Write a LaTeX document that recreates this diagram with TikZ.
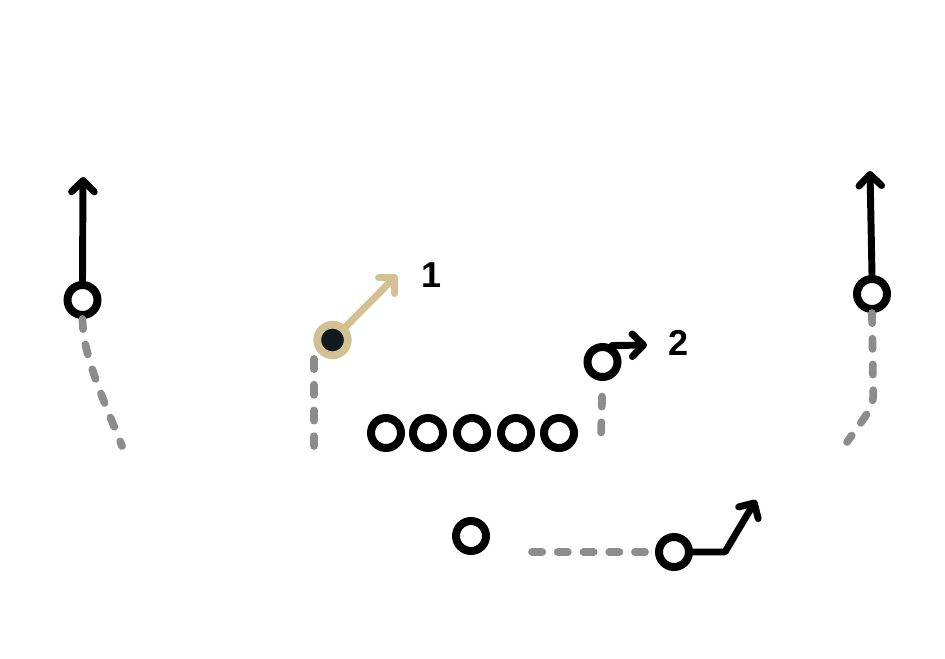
\documentclass[tikz,border=0pt]{standalone}
\usepackage{fontspec}
\setmainfont{Liberation Sans}
\usetikzlibrary{arrows.meta}
\definecolor{dashgray}{HTML}{8C8C8C}
\definecolor{gold}{HTML}{D3C193}
\definecolor{darkfill}{HTML}{111A1E}
\begin{document}
\begin{tikzpicture}[x=0.75pt,y=-0.75pt,
  player/.style={circle,draw=black,line width=6pt,minimum size=22.5pt,inner sep=0pt,fill=white},
  goldplayer/.style={circle,draw=gold,line width=5.85pt,fill=darkfill,minimum size=22.9pt,inner sep=0pt},
  route/.style={line width=5.2pt,line cap=round,line join=round,-{Straight Barb[length=8.5pt,width=17pt,round]}},
  goldroute/.style={route,draw=gold},
  motion/.style={draw=dashgray,line width=5.8pt,line cap=round,dash pattern=on 7.6pt off 11.7pt},
  num/.style={font=\bfseries\fontsize{27}{27}\selectfont,inner sep=0pt}
]
\useasboundingbox (0,0) rectangle (945,659);

% coordinates
\coordinate (lrtip) at (83,177);
\coordinate (lrend) at (122,446);
\coordinate (rrtip) at (870,171);
\coordinate (rrmid) at (873,385);
\coordinate (rrend) at (847,442);
\coordinate (t1) at (397,275);
\coordinate (gd1) at (314,359);
\coordinate (gd2) at (314,446);
\coordinate (t2) at (647,345);
\coordinate (trend) at (601,436);
\coordinate (rbstart) at (532,552);
\coordinate (rbbend) at (725,552);
\coordinate (rbtip) at (756,500);

% players
\node[player] (lr) at (82.5,300) {};
\node[player] (rr) at (872,294) {};
\node[goldplayer] (gp) at (332.5,340) {};
\node[player] (tr) at (602.5,362) {};
\node[player] (ol1) at (386,433) {};
\node[player] (ol2) at (428,433) {};
\node[player] (ol3) at (472,433) {};
\node[player] (ol4) at (516,433) {};
\node[player] (ol5) at (559,433) {};
\node[player] (qb) at (471,536) {};
\node[player] (rb) at (674,552) {};

% motion (dashed)
\draw[motion] (lr.south) .. controls (83,350) and (95,380) .. (lrend);
\draw[motion] (rr.south) -- (rrmid) .. controls (874,405) .. (rrend);
\draw[motion] (gd1) -- (gd2);
\draw[motion,dash phase=7.6pt] (tr.south) -- (trend);
\draw[motion] (rbstart) -- (rb.west);

% routes
\draw[route] (lr.north) -- (lrtip);
\draw[route] (rr.north) -- (rrtip);
\draw[goldroute] (gp) -- (t1);
\draw[route] (tr.60) -- (t2);
\draw[route] (rb.east) -- (rbbend) -- (rbtip);

% labels
\node[num] (n1) at (432,275) {1};
\node[num] (n2) at (678,343) {2};
\end{tikzpicture}
\end{document}
